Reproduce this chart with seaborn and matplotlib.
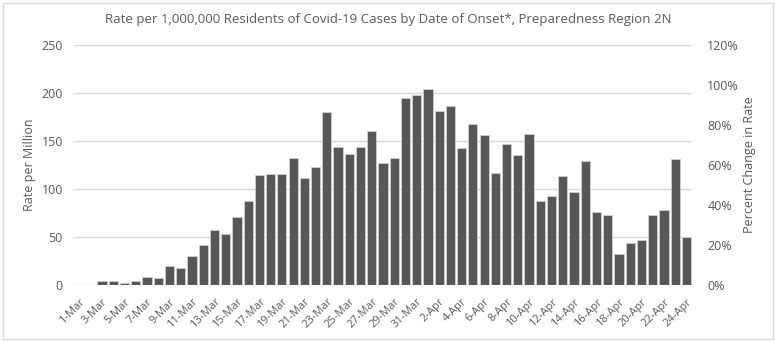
import matplotlib
matplotlib.use("Agg")
import matplotlib.pyplot as plt
import seaborn as sns
import pandas as pd
from matplotlib.ticker import FuncFormatter, FixedLocator
from matplotlib.patches import Rectangle

dates = [f"{d}-Mar" for d in range(1, 32)] + [f"{d}-Apr" for d in range(1, 25)]
rate = [0, 0, 4.2, 4, 2.4, 4, 8, 7.3, 19.8, 17.7,
        29.9, 41.7, 57, 53.5, 71.2, 87.8, 114.6, 116, 115.3, 132.6,
        111, 122.6, 179.9, 144, 136.8, 144, 160, 126.7, 132.6, 194.4,
        197.6, 203.8, 181, 186.8, 142.4, 168, 156.6, 116.7, 146.9, 135,
        157.6, 87.2, 92.7, 113.9, 97.2, 129.5, 76, 72.6, 32.6, 43.75,
        47.2, 72.6, 78.1, 130.9, 50.3]
left_ticks = [0, 50, 100, 150, 200, 250]
right_ticks = [0, 0.2, 0.4, 0.6, 0.8, 1.0, 1.2]

df = pd.DataFrame({"date": dates, "rate": rate})

sns.set_theme(style="white")
plt.rcParams['font.family'] = ['Open Sans', 'DejaVu Sans']
txt = "#595959"

fig = plt.figure(figsize=(7.75, 3.41), dpi=100)
ax = fig.add_axes([74/775, 1 - 285/341, (692-74)/775, 240/341])

sns.barplot(data=df, x="date", y="rate", ax=ax, color="#575757", width=0.82,
            edgecolor="#d0d0d0", linewidth=0.6, saturation=1)

ax.set_ylim(0, 250)
ax.set_xlim(-0.5, len(dates) - 0.5)
ax.yaxis.set_major_locator(FixedLocator(left_ticks))
ax.grid(axis="y", color="#d9d9d9", linewidth=1)
ax.set_axisbelow(True)
for s in ax.spines.values():
    s.set_visible(False)
ax.tick_params(axis="y", colors=txt, labelsize=9, length=0, pad=8)
ax.set_xticks(range(0, len(dates), 2))
ax.set_xticklabels(dates[::2], rotation=45, ha="right", rotation_mode="anchor",
                   fontsize=8, color=txt)
ax.tick_params(axis="x", length=0, pad=8)
ax.set_xlabel("")
ax.set_ylabel("Rate per Million", color=txt, fontsize=9, labelpad=4)

ax2 = ax.twinx()
ax2.set_ylim(0, 1.2)
ax2.yaxis.set_major_locator(FixedLocator(right_ticks))
ax2.yaxis.set_major_formatter(FuncFormatter(lambda v, p: f"{v*100:.0f}%"))
ax2.tick_params(axis="y", colors=txt, labelsize=9, length=0, pad=11)
for s in ax2.spines.values():
    s.set_visible(False)
ax2.set_ylabel("Percent Change in Rate", color=txt, fontsize=9, labelpad=3)
ax2.grid(False)

fig.text(388/775, 1 - 19/341,
         "Rate per 1,000,000 Residents of Covid-19 Cases by Date of Onset*, Preparedness Region 2N",
         ha="center", va="center", fontsize=9.5, color=txt)

fig.patches.append(Rectangle((2.5/775, 2.5/341), 770/775, 336/341, transform=fig.transFigure,
                             fill=False, edgecolor="#d9d9d9", linewidth=1))

fig.savefig("out.png", dpi=100)
